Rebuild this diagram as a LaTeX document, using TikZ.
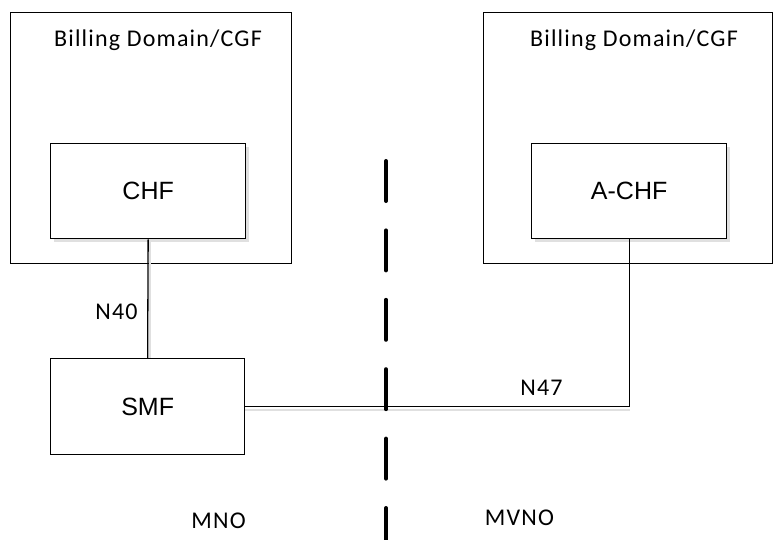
\documentclass[tikz,border=0pt]{standalone}
\usepackage{fontspec}
\setmainfont{Carlito}[LetterSpace=5]
\newfontfamily\arialfont{Liberation Sans}
\begin{document}
\begin{tikzpicture}[x=1pt,y=-1pt,
  line width=1.3pt,
  domainbox/.style={draw, rectangle, inner sep=0pt, anchor=north west},
  nfbox/.style={draw, fill=white, rectangle, inner sep=0pt, anchor=north west, font=\arialfont\fontsize{25}{30}\selectfont},
  nfshadow/.style={fill=black!12, draw=none, rectangle, inner sep=0pt, anchor=north west},
  lbl/.style={font=\fontsize{24}{28}\selectfont, inner sep=0pt},
  shadowline/.style={draw=black!12, line width=1.3pt},
  divider/.style={line width=4pt, line cap=round, dash pattern=on 40pt off 29.4pt}
]
\useasboundingbox (0,0) rectangle (773,540);
% outer domains
\node[domainbox, minimum width=281pt, minimum height=251pt] (domL) at (10,12) {};
\node[domainbox, minimum width=289pt, minimum height=251pt] (domR) at (483,12) {};
\node[lbl] (tL) at (158,40) {Billing Domain/CGF};
\node[lbl] (tR) at (634,40) {Billing Domain/CGF};
% shadows
\node[nfshadow, minimum width=195pt, minimum height=95pt] at (53,146) {};
\node[nfshadow, minimum width=195pt, minimum height=95pt] at (534,146) {};
\draw[shadowline] (150,238) -- (150,358);
\draw[shadowline] (244,410) -- (630,410);
% network functions
\node[nfbox, minimum width=195pt, minimum height=95pt] (chf) at (50,143) {CHF};
\node[nfbox, minimum width=195pt, minimum height=95pt] (achf) at (531,143) {A-CHF};
\node[nfbox, minimum width=194pt, minimum height=96pt] (smf) at (50,358) {SMF};
% connectors
\draw (chf.south) -- (smf.north);
\draw (smf.east) -| (achf.south);
% labels
\node[lbl] (n40) at (116.5,312) {N40};
\node[lbl] (n47) at (541.5,388) {N47};
\node[lbl] (mno) at (218.5,521) {MNO};
\node[lbl] (mvno) at (519.5,518) {MVNO};
% divider
\coordinate (dtop) at (386,161);
\coordinate (dbot) at (386,560);
\draw[divider] (dtop) -- (dbot);
\end{tikzpicture}
\end{document}
